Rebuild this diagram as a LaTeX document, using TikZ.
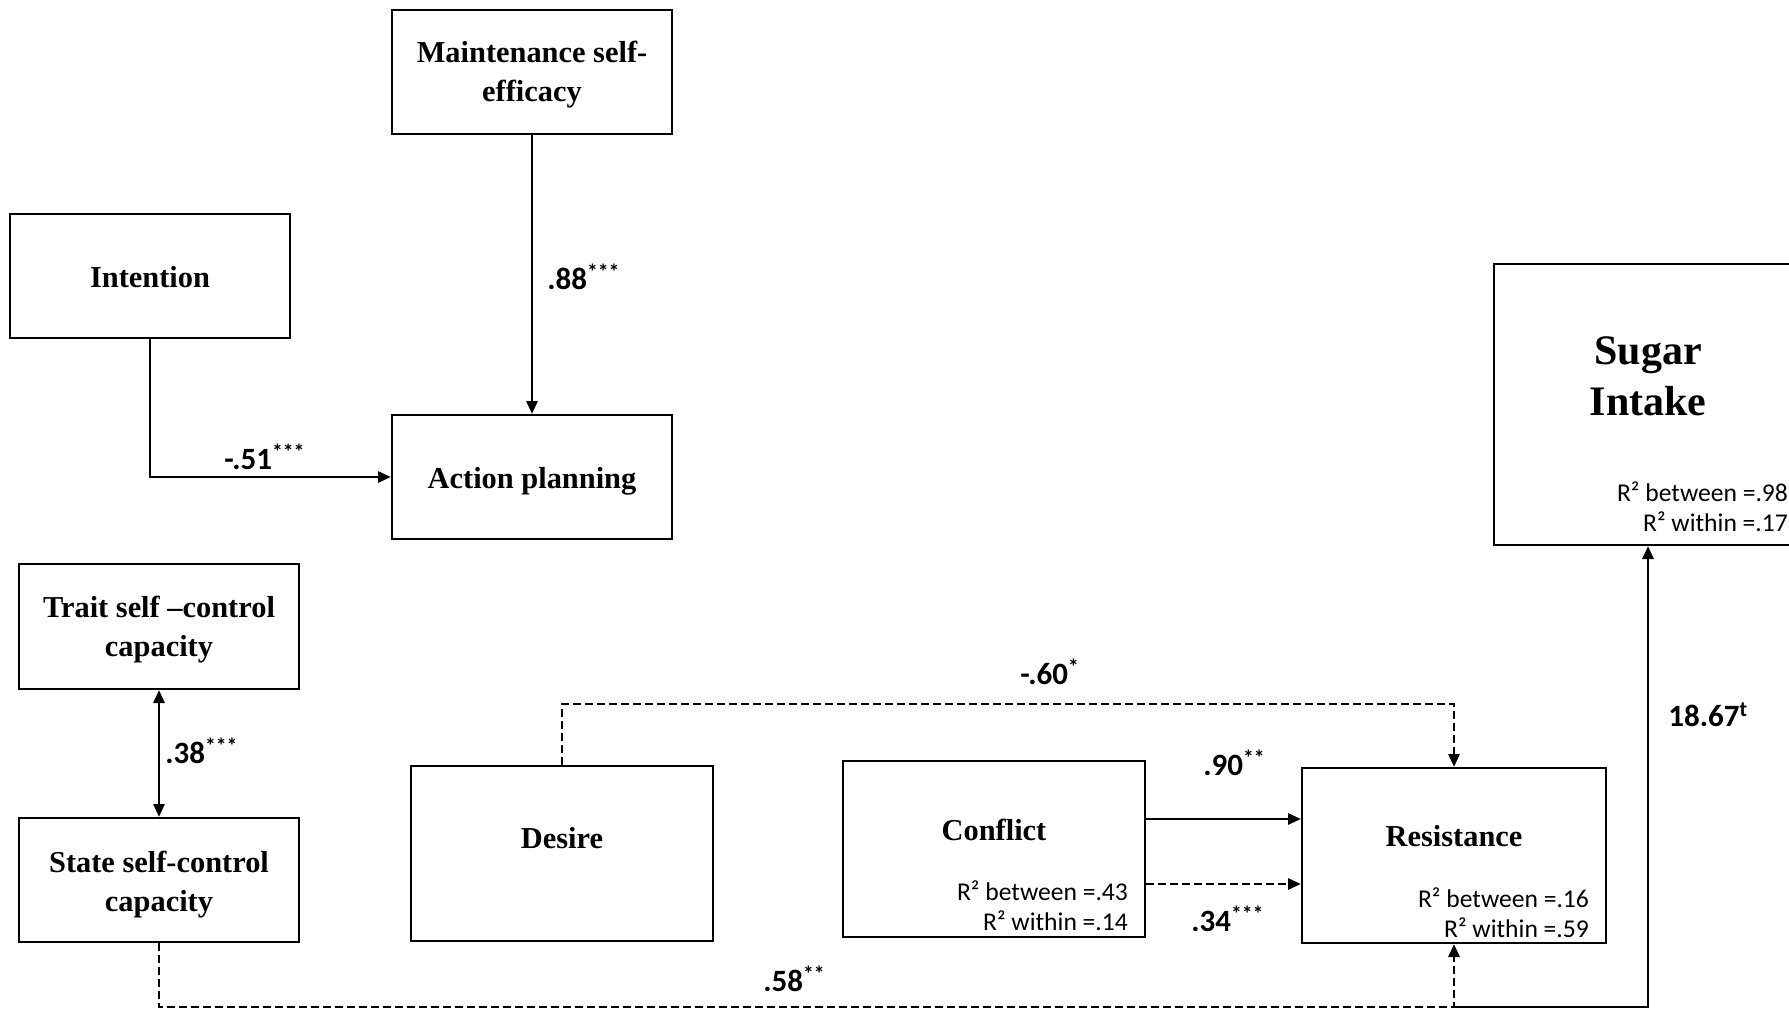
\documentclass[tikz,border=0pt]{standalone}
\usepackage{fontspec}
\setmainfont{Liberation Serif}
\newfontfamily\calfont{Carlito}
\usetikzlibrary{arrows.meta}
\begin{document}
\begin{tikzpicture}[x=0.5pt,y=-0.5pt,
  box/.style={draw, line width=1pt, inner sep=0pt},
  ttl/.style={font=\fontsize{15.2}{19.5}\selectfont\bfseries, align=center},
  big/.style={font=\fontsize{21}{25.5}\selectfont\bfseries, align=center},
  rsq/.style={font=\calfont\fontsize{12.8}{15}\selectfont, align=right, anchor=east},
  coef/.style={font=\calfont\bfseries\fontsize{15.5}{17}\selectfont, anchor=west, inner sep=0pt},
  conn/.style={line width=1.4pt, -{Triangle[length=6.5pt,width=5.5pt]}},
  dsh/.style={dash pattern=on 4pt off 2pt}]
\useasboundingbox (0,0) rectangle (1789,1011);
\clip (0,0) rectangle (1789,1011);
% boxes
\node[box, minimum width=140pt, minimum height=62pt] (maint) at (532,72) {};
\node[box, minimum width=140pt, minimum height=62pt] (intent) at (150,276) {};
\node[box, minimum width=140pt, minimum height=62pt] (action) at (532,477) {};
\node[box, minimum width=140pt, minimum height=62.5pt] (trait) at (159,626.5) {};
\node[box, minimum width=140pt, minimum height=62pt] (state) at (159,880) {};
\node[box, minimum width=151pt, minimum height=87.5pt] (desire) at (562,853.5) {};
\node[box, minimum width=151pt, minimum height=88pt] (conflict) at (994,849) {};
\node[box, minimum width=152pt, minimum height=87.5pt] (resist) at (1454,855.5) {};
\node[box, minimum width=154pt, minimum height=140.5pt] (sugar) at (1648,404.5) {};
% titles
\node[ttl] (tmaint) at (532,75) {Maintenance self-\\efficacy};
\node[ttl] (tintent) at (150,277) {Intention};
\node[ttl] (taction) at (532,481) {Action planning};
\node[ttl] (ttrait) at (159,630) {Trait self \textendash control\\capacity};
\node[ttl] (tstate) at (159,885) {State self-control\\capacity};
\node[ttl] (tdesire) at (562,838) {Desire};
\node[ttl] (tconflict) at (994,830) {Conflict};
\node[ttl] (tresist) at (1454,836) {Resistance};
\node[big] (tsugar) at (1648,376) {Sugar\\Intake};
% R2
\node[rsq] (rconflict) at (1135,906) {R² between =.43\\R² within =.14};
\node[rsq] (rresist) at (1596,913) {R² between =.16\\R² within =.59};
\node[rsq] (rsugar) at (1795,507) {R² between =.98\\R² within =.17};
% connectors
\draw[conn] (maint) -- (action);
\draw[conn] (intent.south) |- (action.west);
\draw[line width=1.4pt, {Triangle[length=6.5pt,width=5.5pt]}-{Triangle[length=6.5pt,width=5.5pt]}] (trait) -- (state);
\draw[conn, dsh] (desire.north) -- ++(0,-61) -| (resist.north);
\draw[conn] (conflict.east |- 0,819) -- (resist.west |- 0,819);
\draw[conn, dsh] (conflict.east |- 0,884) -- (resist.west |- 0,884);
\coordinate (junc) at (1454,1007);
\draw[conn, dsh] (state.south) |- (junc) -- (resist.south);
\draw[conn] (junc) -| (sugar.south);
% coefficients
\node[coef] (c88) at (547,277) {.88\textsuperscript{***}};
\node[coef] (c51) at (224,457) {-.51\textsuperscript{***}};
\node[coef] (c38) at (165,751) {.38\textsuperscript{***}};
\node[coef] (c60) at (1020,672) {-.60\textsuperscript{*}};
\node[coef] (c90) at (1203,763) {.90\textsuperscript{**}};
\node[coef] (c34) at (1191,919) {.34\textsuperscript{***}};
\node[coef] (c58) at (763,979) {.58\textsuperscript{**}};
\node[coef] (c1867) at (1668,715) {18.67\textsuperscript{t}};
\end{tikzpicture}
\end{document}
